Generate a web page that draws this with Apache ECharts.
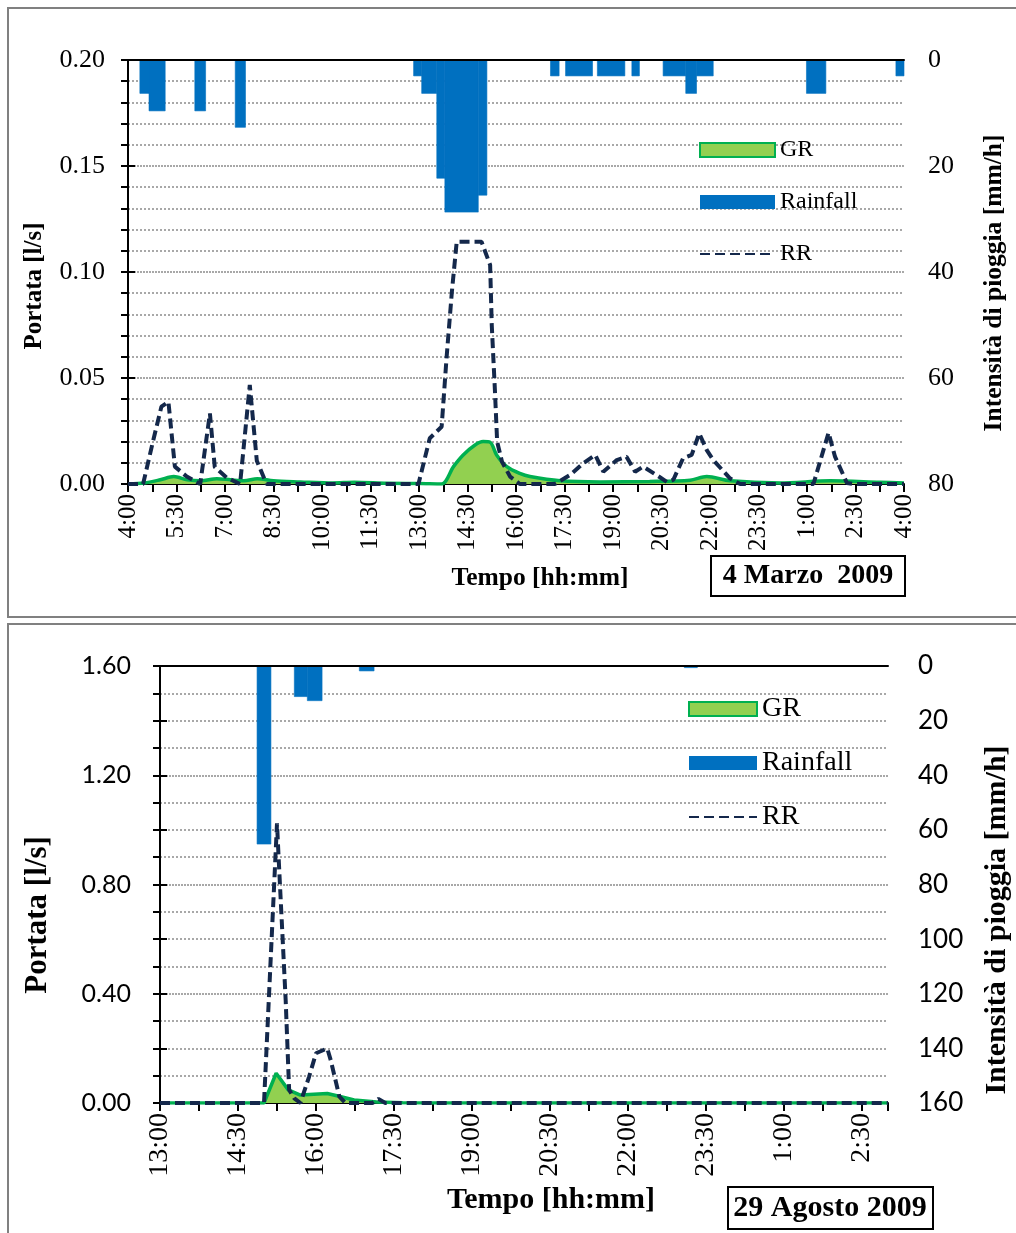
<!DOCTYPE html>
<html>
<head>
<meta charset="UTF-8">
<script src="https://cdn.jsdelivr.net/npm/echarts@6/dist/echarts.min.js"></script>
<style>
body { margin: 0; background: #fff; }
#main { width: 1016px; height: 1233px; }
</style>
<title>Portata e pioggia</title>
</head>
<body>
<div id="main"></div>
<script type="text/javascript">
// 4 Marzo 2009 - tempi in minuti dalle 4:00
var marTicks = ['4:00','5:30','7:00','8:30','10:00','11:30','13:00','14:30','16:00','17:30','19:00','20:30','22:00','23:30','1:00','2:30','4:00'];
var marRainT = [0,22,39,69,124,144,199,218,530,545,573,588,650,666,784,800,812,862,871,922,935,949,993,1035,1055,1086,1259,1295,1425,1440];
var marRainV = [0,6.3,9.6,0,9.6,0,12.7,0,3.0,6.3,22.3,28.7,25.5,0,3,0,3,0,3,0,3,0,3,6.3,3,0,6.3,0,3,0];
var marGrT = [0,30,60,85,110,135,165,190,215,240,270,320,380,420,480,540,582,604,622,644,659,672,684,703,727,746,802,876,968,1043,1074,1117,1210,1303,1395,1440];
var marGrV = [0,0.0005,0.002,0.0035,0.002,0.0015,0.0025,0.002,0.0015,0.0025,0.0015,0.001,0.0005,0.0008,0.0003,0.0002,0,0.0082,0.0137,0.0184,0.0200,0.0197,0.0137,0.0082,0.005,0.0035,0.0015,0.001,0.0012,0.0018,0.0035,0.0015,0.0005,0.0015,0.0008,0.0005];
var marRrT = [0,28,47,62,75,87,109,134,152,161,183,208,226,239,257,539,560,582,591,601,610,656,672,675,681,685,694,709,727,792,820,845,867,882,907,925,941,956,981,1000,1012,1030,1046,1060,1074,1086,1117,1136,1272,1300,1312,1334,1346,1440];
var marRrV = [0,0,0.0208,0.0365,0.0388,0.0082,0.0035,0,0.0333,0.008,0.003,0,0.0467,0.011,0,0,0.0216,0.027,0.059,0.0907,0.1143,0.1143,0.1033,0.075,0.0435,0.02,0.0105,0.0035,0,0,0.0042,0.0098,0.0137,0.0058,0.0113,0.0129,0.0058,0.0082,0.0042,0.001,0.002,0.0121,0.0137,0.0239,0.016,0.0113,0.0027,0,0,0.0242,0.0129,0.0005,0,0];

// 29 Agosto 2009 - tempi in minuti dalle 13:00
var agoTicks = ['13:00','14:30','16:00','17:30','19:00','20:30','22:00','23:30','1:00','2:30'];
var agoRainT = [0,112,128,155,170,187,230,247,605,620,840];
var agoRainV = [0,65.2,0,11.2,12.7,0,1.8,0,0.6,0,0];
var agoGrT = [0,120,134,148,162,193,209,224,250,280,320,840];
var agoGrV = [0,0,0.109,0.048,0.029,0.035,0.023,0.011,0.004,0.001,0,0];
var agoRrT = [0,120,135,137,145,149,155,162,172,180,193,197,207,214,245,252,260,840];
var agoRrV = [0,0,1.024,0.89,0.377,0.048,0.017,0,0.096,0.182,0.2,0.157,0.023,0,0,0.015,0,0];

function pairs(t, v) {
	var out = [];
	for (var i = 0; i < t.length; i++) out.push([t[i], v[i]]);
	return out;
}
// intensita' costante fra t[i] e t[i+1]
function blocks(t, v) {
	var out = [];
	for (var i = 0; i < t.length - 1; i++) {
		if (v[i] > 0) out.push([t[i], t[i + 1], v[i]]);
	}
	return out;
}

var serif = 'Liberation Serif';
var sans = 'Lato';
var rainColor = '#0070c0';
var rrColor = '#14284b';

function timeAxis(grid, max, ticks, size) {
	return {
		type: 'value', gridIndex: grid, min: 0, max: max, interval: 45,
		axisLine: { lineStyle: { color: '#000', width: 2 } },
		axisTick: { length: 8, lineStyle: { color: '#000', width: 2 } },
		axisLabel: {
			rotate: 90, margin: 10, color: '#000', fontFamily: serif, fontSize: size,
			formatter: function (v) {
				if (v % 90 !== 0) return '';
				var s = ticks[v / 90];
				return s === undefined ? '' : s;
			}
		},
		splitLine: { show: false }
	};
}
function topLine(grid, max) {
	return {
		type: 'value', gridIndex: grid, position: 'top', min: 0, max: max, z: 5,
		axisLine: { lineStyle: { color: '#000', width: 2 } },
		axisTick: { show: false }, axisLabel: { show: false }, splitLine: { show: false }
	};
}
function flowAxis(grid, max, interval, minorSplit, font, size, margin) {
	return {
		type: 'value', gridIndex: grid, min: 0, max: max, interval: interval,
		axisLine: { show: true, lineStyle: { color: '#000', width: 2 } },
		axisTick: { show: true, length: 7, lineStyle: { color: '#000', width: 2 } },
		minorTick: { show: true, splitNumber: minorSplit, length: 7, lineStyle: { color: '#000', width: 2 } },
		axisLabel: { color: '#000', fontFamily: font, fontSize: size, margin: margin,
			formatter: function (v) { return v.toFixed(2); } },
		splitLine: { show: true, lineStyle: { color: '#8c8c8c', width: 1.5, type: [2, 1] } },
		minorSplitLine: { show: true, lineStyle: { color: '#8c8c8c', width: 1.5, type: [2, 2] } }
	};
}
function rainAxis(grid, max, font, size, margin) {
	return {
		type: 'value', gridIndex: grid, position: 'right', inverse: true, min: 0, max: max, interval: 20,
		axisLine: { show: true, lineStyle: { color: '#000', width: 2 } },
		axisTick: { show: true, length: 7, lineStyle: { color: '#000', width: 2 } },
		axisLabel: { color: '#000', fontFamily: font, fontSize: size, margin: margin },
		splitLine: { show: false }
	};
}
function rainSeries(x, y, data) {
	return {
		name: 'Rainfall', type: 'custom', xAxisIndex: x, yAxisIndex: y, data: data, silent: true,
		itemStyle: { color: rainColor }, encode: { x: [0, 1], y: 2 }, z: 2,
		renderItem: function (params, api) {
			var p0 = api.coord([api.value(0), 0]);
			var p1 = api.coord([api.value(1), api.value(2)]);
			return { type: 'rect',
				shape: { x: p0[0], y: p0[1], width: p1[0] - p0[0], height: p1[1] - p0[1] },
				style: { fill: rainColor, stroke: rainColor, lineWidth: 0.6 } };
		}
	};
}
function grSeries(x, y, data, smooth) {
	return {
		name: 'GR', type: 'line', xAxisIndex: x, yAxisIndex: y, data: data, smooth: smooth,
		symbol: 'none', silent: true,
		lineStyle: { color: '#00b050', width: 3.5 }, itemStyle: { color: '#00b050' },
		areaStyle: { color: '#92d050', opacity: 1 }, z: 3
	};
}
function rrSeries(x, y, data) {
	return {
		name: 'RR', type: 'line', xAxisIndex: x, yAxisIndex: y, data: data,
		symbol: 'none', silent: true,
		lineStyle: { color: rrColor, width: 4, type: [10, 5] }, itemStyle: { color: rrColor }, z: 4
	};
}
function legendAt(left, top, w, h, size, gap) {
	return {
		orient: 'vertical', left: left, top: top, itemWidth: w, itemHeight: h, itemGap: gap,
		padding: 0, selectedMode: false,
		textStyle: { color: '#000', fontFamily: serif, fontSize: size, lineHeight: size },
		data: [
			{ name: 'GR', icon: 'rect', itemStyle: { color: '#92d050', borderColor: '#00b050', borderWidth: 2 } },
			{ name: 'Rainfall', icon: 'rect', itemStyle: { color: rainColor, borderWidth: 0 } },
			{ name: 'RR', itemStyle: { opacity: 0 } }
		]
	};
}
function vtext(x, y, text, size) {
	return { type: 'text', x: x, y: y, rotation: Math.PI / 2,
		style: { text: text, fill: '#000', font: 'bold ' + size + 'px "' + serif + '"', align: 'center', verticalAlign: 'middle' } };
}
function htext(x, y, text, size) {
	return { type: 'text', x: x, y: y,
		style: { text: text, fill: '#000', font: 'bold ' + size + 'px "' + serif + '"', align: 'center', verticalAlign: 'middle' } };
}

var myChart = echarts.init(document.getElementById('main'));
var option = {
	animation: false,
	backgroundColor: '#fff',
	grid: [
		{ left: 128, top: 60, width: 776, height: 424 },
		{ left: 160, top: 666, width: 728, height: 437 }
	],
	xAxis: [
		timeAxis(0, 1440, marTicks, 25), topLine(0, 1440),
		timeAxis(1, 840, agoTicks, 28), topLine(1, 840)
	],
	yAxis: [
		flowAxis(0, 0.2, 0.05, 5, serif, 26, 23),
		rainAxis(0, 80, serif, 26, 24),
		flowAxis(1, 1.6, 0.4, 4, sans, 25, 29),
		rainAxis(1, 160, sans, 26, 30)
	],
	legend: [
		legendAt(699, 138, 75, 14, 24, 28),
		legendAt(688, 695, 68, 14, 28, 26)
	],
	series: [
		rainSeries(0, 1, blocks(marRainT, marRainV)),
		grSeries(0, 0, pairs(marGrT, marGrV), 0.3),
		rrSeries(0, 0, pairs(marRrT, marRrV)),
		rainSeries(2, 3, blocks(agoRainT, agoRainV)),
		grSeries(2, 2, pairs(agoGrT, agoGrV), false),
		rrSeries(2, 2, pairs(agoRrT, agoRrV))
	],
	graphic: [
		{ type: 'rect', shape: { x: 8, y: 8, width: 1030, height: 609 }, style: { fill: 'none', stroke: '#808080', lineWidth: 2 }, z: -1 },
		{ type: 'rect', shape: { x: 8, y: 624, width: 1030, height: 640 }, style: { fill: 'none', stroke: '#808080', lineWidth: 2 }, z: -1 },
		vtext(35, 286, 'Portata [l/s]', 25),
		vtext(994, 283, 'Intensità di pioggia [mm/h]', 25.5),
		htext(540, 578, 'Tempo [hh:mm]', 25.5),
		{ type: 'rect', shape: { x: 711, y: 556, width: 194, height: 40 }, style: { fill: '#fff', stroke: '#000', lineWidth: 2 } },
		htext(808, 576, '4 Marzo  2009', 28),
		vtext(38, 915, 'Portata [l/s]', 31),
		vtext(997, 920, 'Intensità di pioggia [mm/h]', 30),
		htext(551, 1200, 'Tempo [hh:mm]', 30),
		{ type: 'rect', shape: { x: 728, y: 1187, width: 205, height: 42 }, style: { fill: '#fff', stroke: '#000', lineWidth: 2 } },
		htext(830, 1208, '29 Agosto 2009', 30)
	]
};
myChart.setOption(option);
</script>
</body>
</html>
